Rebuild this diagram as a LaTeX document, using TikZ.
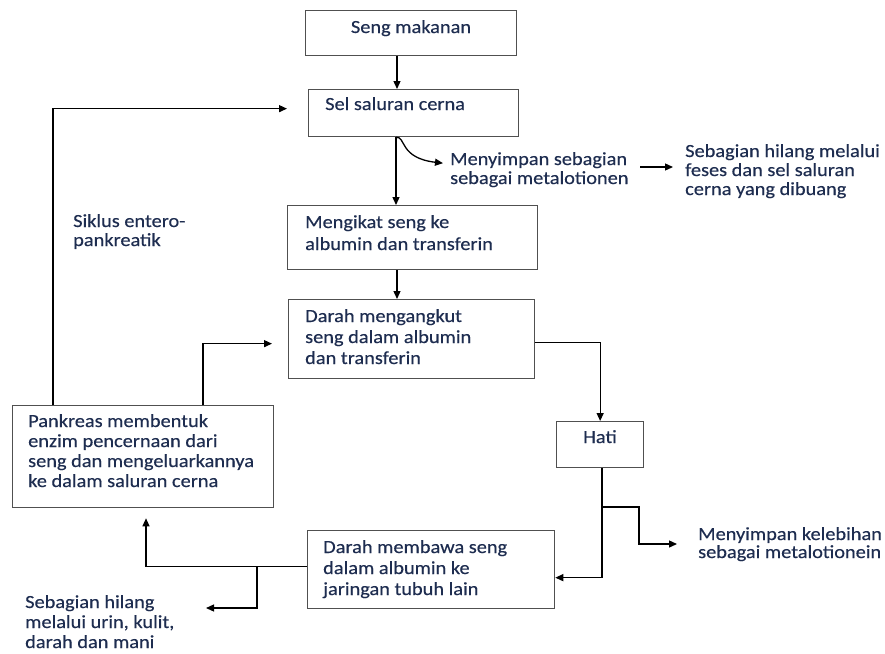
\documentclass[tikz,border=0pt]{standalone}
\usepackage{fontspec}
\setmainfont{Carlito}[FakeStretch=1.1,FakeBold=0.35]
\usetikzlibrary{arrows.meta,calc}
\definecolor{tc}{RGB}{30,45,80}
\definecolor{bc}{RGB}{80,80,80}
\tikzset{
  bx/.style={draw=bc, line width=1.3pt, inner sep=0pt, anchor=north west, rectangle},
  txt/.style={anchor=base west, inner sep=0pt, text=tc, font=\fontsize{18.5}{20}\selectfont},
  arr/.style={draw=black, line width=1.3pt, -{Triangle[length=8pt,width=7pt]}},
  ln/.style={draw=black, line width=1.3pt}
}
\begin{document}
\begin{tikzpicture}[x=1pt,y=-1pt]
\fill[white] (0,0) rectangle (885,653);
\useasboundingbox (0,0) rectangle (885,653);

% boxes
\node[bx, minimum width=211, minimum height=45] (seng) at (305,10) {};
\node[bx, minimum width=210, minimum height=47] (sel) at (308,89) {};
\node[bx, minimum width=250, minimum height=64] (ikat) at (287,205) {};
\node[bx, minimum width=246, minimum height=79] (angkut) at (288,299) {};
\node[bx, minimum width=87, minimum height=46] (hati) at (556,421) {};
\node[bx, minimum width=247, minimum height=78] (bawa) at (307,530) {};
\node[bx, minimum width=261, minimum height=102] (pank) at (12,405) {};

% texts
\node[txt, anchor=base] (t1) at (411,33) {Seng makanan};
\node[txt] (t2) at (325,110) {Sel saluran cerna};
\node[txt] (ms1) at (450,165) {Menyimpan sebagian};
\node[txt] (ms2) at (450,184) {sebagai metalotionen};
\node[txt] (sh1) at (685,157) {Sebagian hilang melalui};
\node[txt] (sh2) at (685,176) {feses dan sel saluran};
\node[txt] (sh3) at (685,195) {cerna yang dibuang};
\node[txt] (sk1) at (73,227) {Siklus entero-};
\node[txt] (sk2) at (73,246) {pankreatik};
\node[txt] (ik1) at (305,228) {Mengikat seng ke};
\node[txt] (ik2) at (305,250) {albumin dan transferin};
\node[txt] (da1) at (305,322) {Darah mengangkut};
\node[txt] (da2) at (305,343) {seng dalam albumin};
\node[txt] (da3) at (305,364) {dan transferin};
\node[txt, anchor=base] (ht) at (600,443) {Hati};
\node[txt] (pk1) at (28,427) {Pankreas membentuk};
\node[txt] (pk2) at (28,447) {enzim pencernaan dari};
\node[txt] (pk3) at (28,467) {seng dan mengeluarkannya};
\node[txt] (pk4) at (28,487) {ke dalam saluran cerna};
\node[txt] (db1) at (323,553) {Darah membawa seng};
\node[txt] (db2) at (323,574) {dalam albumin ke};
\node[txt] (db3) at (323,595) {jaringan tubuh lain};
\node[txt] (mk1) at (698,540) {Menyimpan kelebihan};
\node[txt] (mk2) at (698,558) {sebagai metalotionein};
\node[txt] (hl1) at (25,608) {Sebagian hilang};
\node[txt] (hl2) at (25,628) {melalui urin, kulit,};
\node[txt] (hl3) at (25,648) {darah dan mani};

% helper coordinates
\coordinate (ax) at (397,0);
\coordinate (bxx) at (396,0);
\coordinate (gx) at (602,0);
\coordinate (hb) at (602,507);
\coordinate (h2) at (639,544);
\coordinate (h3) at (677,544);
\coordinate (ix) at (146,0);
\coordinate (jx) at (257,0);
\coordinate (j2) at (206,608);
\coordinate (kx) at (53,0);
\coordinate (lx) at (203,0);
\coordinate (bw) at ($(bawa.west)+(0,-3)$);

% connectors
\draw[arr] (seng.south -| ax) -- (sel.north -| ax);
\draw[arr] (sel.south -| bxx) -- (ikat.north -| bxx);
\draw[arr] (sel.south -| bxx) .. controls (406,136) and (399,158) .. ($(ms1.west)+(-7,3)$);
\draw[arr] ($(ms1.base west)+(190,2)$) -- ($(sh1.base west)+(-12,10)$);
\draw[arr] (ikat.south -| ax) -- (angkut.north -| ax);
\draw[arr] ($(angkut.east)+(0,3.5)$) -| (hati.north);
\draw[arr] (hati.south -| gx) |- ($(bawa.east)+(0,8)$);
\draw[arr] (hb) -| (h2) -- (h3);
\draw[arr] (bw) -| ($(pank.south -| ix)+(0,10)$);
\draw[arr] (bw -| jx) |- (j2);
\draw[arr] (pank.north -| kx) |- ($(sel.west)+(-21,-4.5)$);
\draw[arr] (pank.north -| lx) |- ($(angkut.west)+(-16,4.5)$);
\end{tikzpicture}
\end{document}
